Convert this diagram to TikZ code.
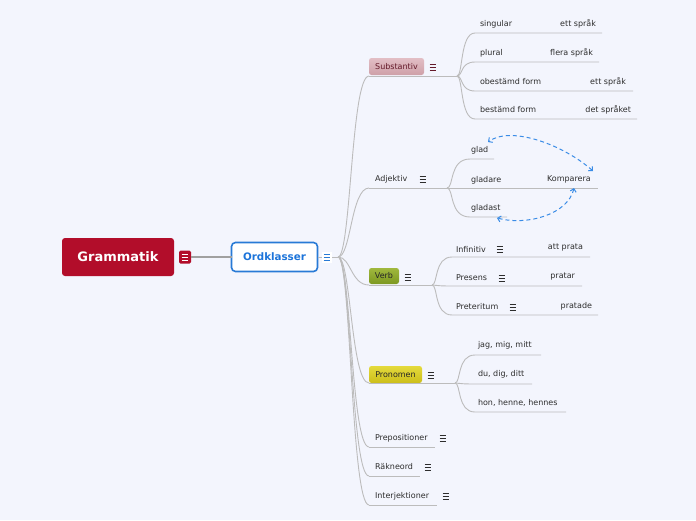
\documentclass[tikz,border=0pt]{standalone}
\usepackage{fontspec}
\setmainfont{DejaVu Sans}
\usetikzlibrary{arrows.meta}
\definecolor{bg}{RGB}{243,245,253}
\definecolor{tcol}{RGB}{45,45,45}
\definecolor{lcol}{RGB}{188,188,188}
\definecolor{rootred}{RGB}{178,13,42}
\definecolor{ordblue}{RGB}{40,122,214}
\definecolor{ordtxt}{RGB}{28,116,218}
\definecolor{substtop}{RGB}{226,190,197}
\definecolor{substbot}{RGB}{206,160,168}
\definecolor{substtxt}{RGB}{100,26,42}
\definecolor{verbtop}{RGB}{160,184,62}
\definecolor{verbbot}{RGB}{124,152,32}
\definecolor{prontop}{RGB}{228,218,60}
\definecolor{pronbot}{RGB}{204,190,26}
\definecolor{arrblue}{RGB}{58,140,230}
\begin{document}
\begin{tikzpicture}[x=1pt,y=-1pt,
  every node/.style={inner sep=0pt,outer sep=0pt},
  font=\fontsize{8}{9.6}\selectfont,
  txt/.style={anchor=west,text=tcol},
  rtxt/.style={anchor=east,text=tcol},
  conn/.style={draw=lcol,line width=0.9pt},
  under/.style={draw=lcol,line width=0.9pt},
  rootbox/.style={fill=rootred,rounded corners=3pt,minimum width=112pt,minimum height=38pt,text=white,font=\fontsize{13}{15}\selectfont\bfseries},
  ordbox/.style={fill=white,draw=ordblue,line width=1.6pt,rounded corners=4pt,minimum width=86pt,minimum height=29pt,text=ordtxt,font=\fontsize{10.3}{12}\selectfont\bfseries},
  topicbox/.style={rounded corners=2.5pt,minimum height=17pt},
  menu/.pic={\draw[line width=0.95pt,line cap=butt] (-3.4,-3)--(3.4,-3) (-3.4,0)--(3.4,0) (-3.4,3)--(3.4,3);},
  darr/.style={draw=arrblue,line width=1pt,dash pattern=on 4pt off 3pt,{Straight Barb[length=3pt,width=6pt]}-{Straight Barb[length=3pt,width=6pt]}}
]
\fill[bg] (0,0) rectangle (696,520);
\useasboundingbox (0,0) rectangle (696,520);

% root
\node[rootbox] (gram) at (118,257) {Grammatik};
\node[fill=rootred,rounded corners=1.5pt,minimum width=12pt,minimum height=13pt] (gicon) at (185,257) {};
\pic[color=white] at (185,257) {menu};
\node[ordbox] (ord) at (274.5,257) {Ordklasser};
\draw[draw=lcol!85!black,line width=1.3pt] (gicon.east) -- (ord.west);
\node[fill=white,minimum width=10pt,minimum height=11pt] (oicon) at (327,257) {};
\pic[color=ordblue] at (327,257) {menu};
\coordinate (hub) at (338,257);
\draw[conn] (ord.east) -- (oicon.west) (oicon.east) -- (hub);

% first-level anchors
\coordinate (sA) at (369,76);
\coordinate (aA) at (369,188);
\coordinate (vA) at (369,285);
\coordinate (pA) at (369,383);
\coordinate (prA) at (369,447);
\coordinate (rA) at (369,476);
\coordinate (iA) at (369,505);
\foreach \t in {sA,aA,vA,pA,prA,rA,iA}{
  \draw[conn] (hub) .. controls (351,257) and (351,0|-\t) .. (\t);
}

% Substantiv
\node[topicbox,top color=substtop,bottom color=substbot,minimum width=55pt,text=substtxt] (subst) at (396.5,66.5) {Substantiv};
\pic[color=substtxt] at (433,67) {menu};
\coordinate (sH) at (457,76);
\draw[under] (sA) -- (sH);
\coordinate (s1) at (475,33);  \coordinate (s1e) at (602,33);
\coordinate (s2) at (475,62);  \coordinate (s2e) at (599,62);
\coordinate (s3) at (475,91);  \coordinate (s3e) at (633,91);
\coordinate (s4) at (475,119); \coordinate (s4e) at (637,119);
\foreach \a/\b in {s1/s1e,s2/s2e,s3/s3e,s4/s4e}{
  \draw[conn] (sH) .. controls (463,76) and (460,0|-\a) .. (\a) -- (\b);
}
\node[txt] (sing) at (480,24) {singular};
\node[rtxt] (singv) at (596,24) {ett språk};
\node[txt] (plur) at (480,53) {plural};
\node[rtxt] (plurv) at (593,53) {flera språk};
\node[txt] (obest) at (480,82) {obestämd form};
\node[rtxt] (obestv) at (626,82) {ett språk};
\node[txt] (best) at (480,110) {bestämd form};
\node[rtxt] (bestv) at (631,110) {det språket};

% Adjektiv
\node[txt] (adj) at (375,179) {Adjektiv};
\pic[color=tcol] at (423,179) {menu};
\coordinate (aH) at (447,188);
\draw[under] (aA) -- (aH);
\coordinate (a1) at (470,159); \coordinate (a1e) at (494,159);
\coordinate (a3) at (470,217); \coordinate (a3e) at (507,217);
\coordinate (a2e) at (598,188);
\draw[conn] (aH) .. controls (454,188) and (449,159) .. (a1) -- (a1e);
\draw[conn] (aH) .. controls (454,188) and (449,217) .. (a3) -- (a3e);
\draw[conn] (aH) -- (a2e);
\node[txt] (glad) at (471,150) {glad};
\node[txt] (gladare) at (471,180) {gladare};
\node[txt] (gladast) at (471,208) {gladast};
\node[txt] (komp) at (547,179) {Komparera};
\coordinate (kTop) at (593,171);
\coordinate (gTop) at (488,142);
\coordinate (kBot) at (574,188);
\coordinate (gBot) at (497,218);
\draw[darr] (kTop) .. controls (565,146) and (512,125) .. (gTop);
\draw[darr] (kBot) .. controls (568,214) and (528,226) .. (gBot);

% Verb
\node[topicbox,top color=verbtop,bottom color=verbbot,minimum width=30pt,minimum height=16pt,text=black!85] (verb) at (384,276) {Verb};
\pic[color=tcol] at (408,277) {menu};
\coordinate (vH) at (432,285);
\draw[under] (vA) -- (vH);
\coordinate (v1) at (452,257); \coordinate (v1e) at (590,257);
\coordinate (v2) at (452,286); \coordinate (v2e) at (582,286);
\coordinate (v3) at (452,315); \coordinate (v3e) at (598,315);
\foreach \a/\b in {v1/v1e,v2/v2e,v3/v3e}{
  \draw[conn] (vH) .. controls (438,285) and (434,0|-\a) .. (\a) -- (\b);
}
\node[txt] (inf) at (456,249) {Infinitiv};
\pic[color=tcol] at (500,249) {menu};
\node[rtxt] (infv) at (583,248) {att prata};
\node[txt] (pres) at (456,278) {Presens};
\pic[color=tcol] at (502,278) {menu};
\node[rtxt] (presv) at (575,277) {pratar};
\node[txt] (pret) at (456,307) {Preteritum};
\pic[color=tcol] at (513,307) {menu};
\node[rtxt] (pretv) at (592,306) {pratade};

% Pronomen
\node[topicbox,top color=prontop,bottom color=pronbot,minimum width=53pt,text=black!85] (pron) at (395.5,374.5) {Pronomen};
\pic[color=tcol] at (431,375) {menu};
\coordinate (pH) at (455,383);
\draw[under] (pA) -- (pH);
\coordinate (p1) at (475,355); \coordinate (p1e) at (541,355);
\coordinate (p2) at (475,384); \coordinate (p2e) at (532,384);
\coordinate (p3) at (475,412); \coordinate (p3e) at (566,412);
\foreach \a/\b in {p1/p1e,p2/p2e,p3/p3e}{
  \draw[conn] (pH) .. controls (461,383) and (457,0|-\a) .. (\a) -- (\b);
}
\node[txt] (jag) at (478,345) {jag, mig, mitt};
\node[txt] (du) at (478,374) {du, dig, ditt};
\node[txt] (hon) at (478,403) {hon, henne, hennes};

% remaining topics
\node[txt] (prep) at (375,438) {Prepositioner};
\pic[color=tcol] at (443,438) {menu};
\coordinate (prE) at (435,447);
\draw[under] (prA) -- (prE);
\node[txt] (rakn) at (375,467) {Räkneord};
\pic[color=tcol] at (428,467) {menu};
\coordinate (rE) at (420,476);
\draw[under] (rA) -- (rE);
\node[txt] (interj) at (375,496) {Interjektioner};
\pic[color=tcol] at (446,496) {menu};
\coordinate (iE) at (437,505);
\draw[under] (iA) -- (iE);
\end{tikzpicture}
\end{document}
